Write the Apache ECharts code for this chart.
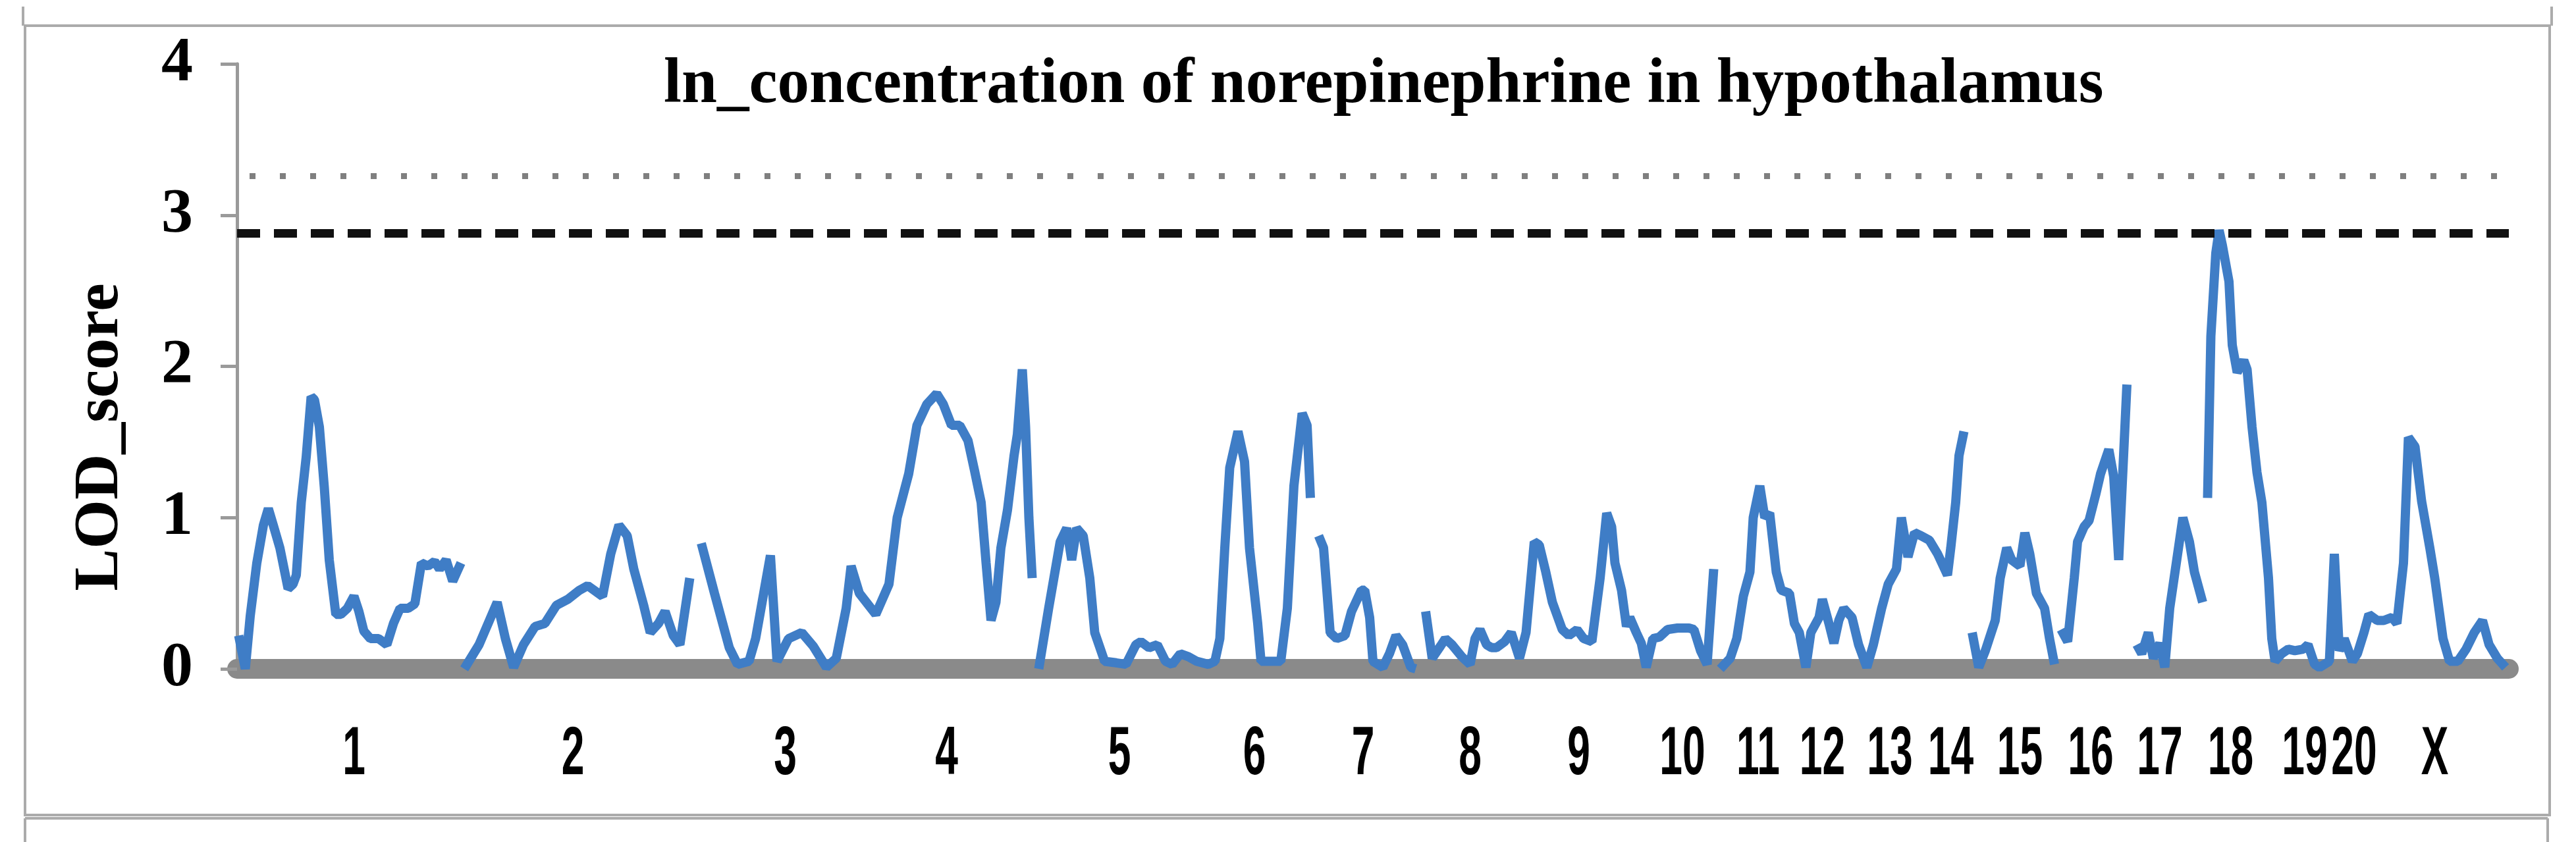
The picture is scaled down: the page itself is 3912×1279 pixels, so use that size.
<!DOCTYPE html>
<html>
<head>
<meta charset="utf-8">
<script src="https://cdn.jsdelivr.net/npm/echarts@6/dist/echarts.min.js"></script>
<style>
html,body{margin:0;padding:0;background:#ffffff;}
#chart{width:3912px;height:1279px;}
</style>
</head>
<body>
<div id="chart"></div>
<script>
// ---- data ----
const chartTitle = 'ln_concentration of norepinephrine in hypothalamus';
const yAxisTitle = 'LOD_score';
const chrNames = ['1','2','3','4','5','6','7','8','9','10','11','12','13','14','15','16','17','18','19','20','X'];
const chrLabelPos = [71,204,333,431,536,618,684,749,815,878,924,963,1004,1041,1083,1126,1168,1211,1256,1286,1335];
const yTickValues = [0,1,2,3,4];
const suggestiveThreshold = 2.88;   // dashed black line
const significantThreshold = 3.26;  // dotted grey line
const genomeLength = 1380;

// LOD profile, one array per drawn segment: [position, LOD]
const chr1 = [[1,0.22],[5,0.0],[8,0.35],[12,0.7],[16,0.95],[19,1.06],[22,0.95],[26,0.80],[31,0.53],[34,0.56],[36,0.62],[39,1.1],[42,1.4],[45,1.80],[47,1.78],[50,1.6],[53,1.2],[56,0.72],[60,0.36],[63,0.36],[67,0.40],[71,0.48],[74,0.38],[77,0.25],[81,0.20],[86,0.20],[91,0.16],[95,0.30],[99,0.40],[104,0.40],[108,0.43],[112,0.70],[116,0.68],[120,0.71],[123,0.66],[127,0.72],[131,0.58],[136,0.70]];
const chr2 = [[138,0.0],[147,0.16],[158,0.44],[163,0.2],[168,0.01],[174,0.16],[181,0.28],[187,0.30],[194,0.42],[201,0.46],[208,0.52],[213,0.55],[222,0.48],[227,0.76],[232,0.95],[237,0.88],[241,0.66],[247,0.42],[251,0.24],[256,0.30],[260,0.38],[265,0.22],[269,0.16],[275,0.60]];
const chr3to4 = [[282,0.83],[290,0.5],[299,0.14],[304,0.03],[311,0.05],[315,0.2],[324,0.75],[328,0.05],[335,0.2],[343,0.24],[350,0.15],[358,0.01],[364,0.07],[370,0.4],[373,0.68],[378,0.5],[388,0.36],[396,0.56],[401,1.0],[408,1.29],[413,1.61],[419,1.75],[425,1.82],[429,1.75],[434,1.61],[439,1.61],[444,1.51],[448,1.31],[452,1.1],[455,0.70],[458,0.32],[461,0.44],[464,0.80],[468,1.05],[472,1.41],[474,1.55],[477,1.98],[479,1.6],[481,1.0],[483,0.6]];
const chr5to6 = [[487,0.0],[493,0.4],[500,0.84],[504,0.93],[507,0.72],[510,0.93],[514,0.88],[518,0.6],[521,0.24],[527,0.05],[534,0.04],[540,0.03],[546,0.16],[549,0.18],[554,0.14],[559,0.16],[564,0.05],[568,0.03],[573,0.1],[578,0.08],[583,0.05],[590,0.03],[594,0.05],[597,0.2],[600,0.8],[603,1.33],[608,1.57],[612,1.37],[615,0.8],[620,0.3],[622,0.05],[628,0.05],[634,0.05],[638,0.4],[642,1.21],[647,1.69],[650,1.61],[652,1.13]];
const chr7 = [[657,0.88],[660,0.8],[664,0.24],[668,0.2],[673,0.22],[677,0.38],[683,0.52],[685,0.52],[688,0.34],[690,0.05],[696,0.01],[700,0.1],[704,0.22],[708,0.16],[713,0.01],[716,0.0]];
const chr8to10 = [[722,0.38],[726,0.07],[731,0.15],[734,0.2],[738,0.16],[744,0.08],[749,0.03],[752,0.2],[755,0.26],[759,0.16],[762,0.14],[765,0.14],[770,0.18],[774,0.24],[779,0.07],[783,0.24],[788,0.84],[791,0.82],[795,0.64],[799,0.44],[805,0.26],[809,0.22],[814,0.26],[818,0.2],[823,0.18],[828,0.6],[832,1.03],[835,0.94],[837,0.7],[841,0.52],[844,0.28],[846,0.34],[850,0.24],[853,0.17],[856,0.01],[860,0.2],[864,0.21],[869,0.26],[875,0.27],[882,0.27],[885,0.26],[889,0.12],[893,0.03],[897,0.66]];
const chr11to14 = [[901,0.0],[907,0.07],[911,0.2],[915,0.48],[919,0.64],[921,1.0],[925,1.21],[928,1.0],[931,1.03],[935,0.64],[938,0.52],[943,0.5],[946,0.3],[949,0.24],[953,0.01],[956,0.24],[961,0.34],[963,0.46],[967,0.3],[970,0.17],[973,0.32],[976,0.4],[981,0.34],[985,0.16],[990,0.01],[994,0.16],[999,0.4],[1003,0.56],[1008,0.66],[1011,1.0],[1015,0.74],[1019,0.9],[1023,0.88],[1028,0.85],[1033,0.76],[1039,0.62],[1041,0.8],[1044,1.1],[1046,1.41],[1049,1.57]];
const chr15 = [[1054,0.24],[1058,0.01],[1062,0.12],[1068,0.32],[1071,0.6],[1075,0.8],[1078,0.72],[1083,0.68],[1086,0.9],[1089,0.76],[1093,0.5],[1098,0.4],[1101,0.2],[1104,0.03]];
const chr16 = [[1108,0.26],[1112,0.18],[1116,0.6],[1118,0.84],[1122,0.94],[1125,0.98],[1129,1.15],[1132,1.29],[1137,1.45],[1140,1.27],[1143,0.72],[1148,1.88]];
const chr17 = [[1154,0.16],[1157,0.1],[1161,0.24],[1164,0.07],[1168,0.17],[1171,0.01],[1174,0.4],[1178,0.7],[1182,1.0],[1186,0.84],[1189,0.64],[1194,0.44]];
const chr18toX = [[1197,1.13],[1199,2.2],[1202,2.75],[1204,2.9],[1206,2.8],[1210,2.56],[1212,2.14],[1215,1.96],[1219,2.04],[1221,1.98],[1224,1.6],[1227,1.3],[1230,1.1],[1234,0.6],[1236,0.2],[1238,0.05],[1242,0.1],[1246,0.13],[1250,0.12],[1255,0.13],[1258,0.16],[1262,0.03],[1265,0.01],[1271,0.05],[1274,0.76],[1277,0.12],[1280,0.2],[1285,0.05],[1288,0.1],[1292,0.24],[1295,0.36],[1300,0.32],[1304,0.32],[1309,0.34],[1312,0.3],[1316,0.7],[1319,1.53],[1323,1.47],[1327,1.11],[1332,0.8],[1335,0.6],[1340,0.2],[1344,0.05],[1349,0.05],[1354,0.13],[1359,0.24],[1364,0.32],[1368,0.16],[1373,0.07],[1378,0.01]];

const segments = [chr1, chr2, chr3to4, chr5to6, chr7, chr8to10, chr11to14, chr15, chr16, chr17, chr18toX];

const serif = "'Liberation Serif','Times New Roman',serif";
const sans = "'Liberation Sans','Arial',sans-serif";
const frameColor = '#ababab';
const lodColor = '#3f7dc6';

// one line series per drawn segment
const lodSeries = segments.map((seg, i) => ({
  type: 'line',
  data: seg,
  showSymbol: false,
  lineStyle: {color: lodColor, width: 14}
}));

// threshold lines
lodSeries.push({
  type: 'line',
  data: [],
  markLine: {
    silent: true,
    symbol: ['none', 'none'],
    label: {show: false},
    data: [
      {yAxis: suggestiveThreshold, lineStyle: {type: [35, 21], width: 13, color: '#111111'}},
      {yAxis: significantThreshold, lineStyle: {type: [9, 37], dashOffset: 27, width: 9, color: '#7f7f7f'}}
    ]
  }
});

const chart = echarts.init(document.getElementById('chart'), null, {renderer: 'canvas'});
chart.setOption({
  backgroundColor: '#ffffff',
  animation: false,
  title: {
    text: chartTitle,
    left: 1003,
    top: 76,
    textStyle: {fontFamily: serif, fontWeight: 'bold', fontSize: 97, color: '#000'}
  },
  grid: {left: 360, right: 102, top: 97, bottom: 263, containLabel: false},
  xAxis: {
    type: 'value',
    min: 0,
    max: genomeLength,
    offset: 15,
    axisLine: {show: true, lineStyle: {color: '#8a8a8a', width: 30}},
    axisTick: {show: false},
    splitLine: {show: false},
    axisLabel: {show: false}
  },
  yAxis: {
    type: 'value',
    min: 0,
    max: 4,
    interval: 1,
    axisLine: {show: true, lineStyle: {color: '#9a9a9a', width: 5}},
    axisTick: {show: true, length: 25, lineStyle: {color: '#9a9a9a', width: 5}},
    splitLine: {show: false},
    axisLabel: {
      fontFamily: serif,
      fontWeight: 'bold',
      fontSize: 96,
      color: '#000',
      margin: 67
    }
  },
  graphic: [
    {id: 'frame', type: 'rect', shape: {x: 38, y: 39, width: 3834, height: 1199}, style: {fill: 'none', stroke: frameColor, lineWidth: 4}, silent: true},
    {id: 'f1', type: 'line', shape: {x1: 35, y1: 10, x2: 35, y2: 39}, style: {stroke: frameColor, lineWidth: 4}, silent: true},
    {id: 'f2', type: 'line', shape: {x1: 3875, y1: 10, x2: 3875, y2: 39}, style: {stroke: frameColor, lineWidth: 4}, silent: true},
    {id: 'f3', type: 'line', shape: {x1: 38, y1: 1243, x2: 3869, y2: 1243}, style: {stroke: frameColor, lineWidth: 4}, silent: true},
    {id: 'f4', type: 'line', shape: {x1: 38, y1: 1243, x2: 38, y2: 1279}, style: {stroke: frameColor, lineWidth: 4}, silent: true},
    {id: 'f5', type: 'line', shape: {x1: 3869, y1: 1243, x2: 3869, y2: 1279}, style: {stroke: frameColor, lineWidth: 4}, silent: true},
    {
      id: 'ytitle',
      type: 'text',
      x: 153, y: 664,
      rotation: Math.PI / 2,
      style: {text: yAxisTitle, fontFamily: serif, fontWeight: 'bold', fontSize: 96, fill: '#000', align: 'center', verticalAlign: 'middle'},
      silent: true
    }
  ],
  series: lodSeries
});

// chromosome labels: placed through the x axis scale, drawn condensed
const labelY = chart.convertToPixel({yAxisIndex: 0}, 0) + 131;
const chrLabels = chrNames.map((name, i) => ({
  id: 'chr_' + name,
  type: 'text',
  x: chart.convertToPixel({xAxisIndex: 0}, chrLabelPos[i]),
  y: labelY,
  scaleX: 0.6,
  style: {text: name, fontFamily: sans, fontWeight: 'bold', fontSize: 104, fill: '#000', align: 'center', verticalAlign: 'middle'},
  silent: true
}));
chart.setOption({graphic: chrLabels});
</script>
</body>
</html>
